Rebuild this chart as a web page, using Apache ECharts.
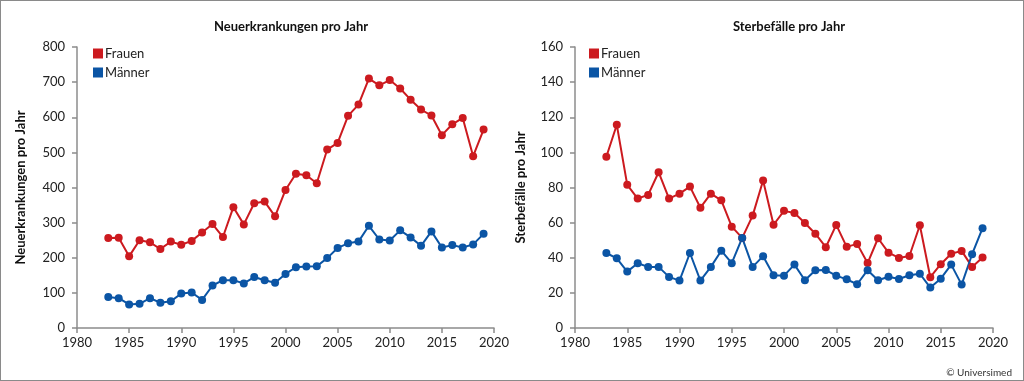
<!DOCTYPE html>
<html><head><meta charset="utf-8">
<script src="https://cdn.jsdelivr.net/npm/echarts@6/dist/echarts.min.js"></script>
<style>html,body{margin:0;padding:0;background:#fff}#c{width:1024px;height:381px;box-sizing:border-box;border:1px solid #8a8a8a;}</style>
</head><body><div id="c"></div>
<script>
const years = [1983,1984,1985,1986,1987,1988,1989,1990,1991,1992,1993,1994,1995,1996,1997,1998,1999,2000,2001,2002,2003,2004,2005,2006,2007,2008,2009,2010,2011,2012,2013,2014,2015,2016,2017,2018,2019];
const neuFrauen = [256,257,204,250,244,225,246,237,248,272,296,259,344,295,355,360,318,393,439,435,412,508,527,604,636,710,691,706,682,650,622,605,549,580,598,489,565];
const neuMaenner = [88,85,67,69,85,72,76,98,101,80,121,136,136,127,145,136,129,154,173,175,176,199,228,241,246,291,252,249,278,258,234,275,229,236,229,238,268];
const sterbFrauen = [97.5,115.7,81.5,73.7,75.8,88.7,73.7,76.5,80.5,68.5,76.5,72.7,57.7,51.3,64,84,58.8,66.7,65.5,59.8,53.7,46,58.7,46.2,47.9,37,51.1,42.9,39.9,41,58.5,28.9,36.3,42.3,43.9,34.8,40.1];
const sterbMaenner = [42.7,39.7,32.1,36.9,34.8,34.8,29.1,27,42.7,27,34.8,44,36.9,51.3,34.8,40.9,30,29.8,36.1,27.2,32.9,33,29.8,27.7,24.9,32.9,27.2,29.2,27.9,30,30.9,23,28.1,36.1,24.7,42,56.8];
const xTicks = {min:1980, max:2020, interval:5};
const titles = ['Neuerkrankungen pro Jahr','Sterbefälle pro Jahr'];
const yAxes = [{min:0,max:800,interval:100},{min:0,max:160,interval:20}];
const names = ['Frauen','Männer'];

const RED = '#cc1a1f', BLUE = '#0b55a5';
const FONT = 'Lato';
const pairs = (v) => years.map((y,i)=>[y,v[i]]);

const chart = echarts.init(document.getElementById('c'), null, {renderer:'canvas'});
const grids = [{left:76, top:46, width:417, height:281},{left:574, top:46, width:418, height:281}];
function xAxis(i){return {type:'value', gridIndex:i, min:xTicks.min, max:xTicks.max, interval:xTicks.interval,
  axisLine:{lineStyle:{color:'#8c8c8c', width:1.5}}, axisTick:{length:5, lineStyle:{color:'#8c8c8c', width:1.5}},
  axisLabel:{color:'#222', fontFamily:FONT, fontSize:13, margin:8, formatter:v=>String(v)}, splitLine:{show:false}};}
function yAxis(i){return {type:'value', gridIndex:i, min:yAxes[i].min, max:yAxes[i].max, interval:yAxes[i].interval,
  name:titles[i], nameLocation:'middle', nameGap: i===0?50:48, nameRotate:90,
  nameTextStyle:{color:'#111', fontFamily:FONT, fontWeight:'bold', fontSize:13},
  axisLine:{show:true, lineStyle:{color:'#8c8c8c', width:1.5}}, axisTick:{show:true, length:5, lineStyle:{color:'#8c8c8c', width:1.5}},
  axisLabel:{color:'#222', fontFamily:FONT, fontSize:13, margin:12}, splitLine:{show:false}};}
function ser(name, data, color, i){return {type:'line', name, xAxisIndex:i, yAxisIndex:i, data:pairs(data),
  symbol:'circle', symbolSize:8, showSymbol:true, color, lineStyle:{color, width:2}, itemStyle:{color}, animation:false};}
function legend(left){return {data:names, left, top:45, padding:0, orient:'vertical', icon:'rect', itemWidth:10, itemHeight:10, itemGap:4, selectedMode:false,
      textStyle:{fontFamily:FONT, fontSize:13, color:'#222', padding:[0,0,0,-3], lineHeight:15}};}

chart.setOption({
  animation:false,
  title:[
    {text:titles[0], left:285, top:14, textAlign:'center', textStyle:{fontFamily:FONT, fontWeight:'bold', fontSize:13, color:'#111'}},
    {text:titles[1], left:783, top:14, textAlign:'center', textStyle:{fontFamily:FONT, fontWeight:'bold', fontSize:13, color:'#111'}},
    {text:'© Universimed', right:6, top:362, textStyle:{fontFamily:FONT, fontSize:10, fontWeight:'normal', color:'#333'}}
  ],
  legend:[legend(92), legend(588)],
  grid:grids,
  xAxis:[xAxis(0), xAxis(1)],
  yAxis:[yAxis(0), yAxis(1)],
  series:[
    ser(names[0], neuFrauen, RED, 0), ser(names[1], neuMaenner, BLUE, 0),
    ser(names[0], sterbFrauen, RED, 1), ser(names[1], sterbMaenner, BLUE, 1)
  ]
});
</script></body></html>
